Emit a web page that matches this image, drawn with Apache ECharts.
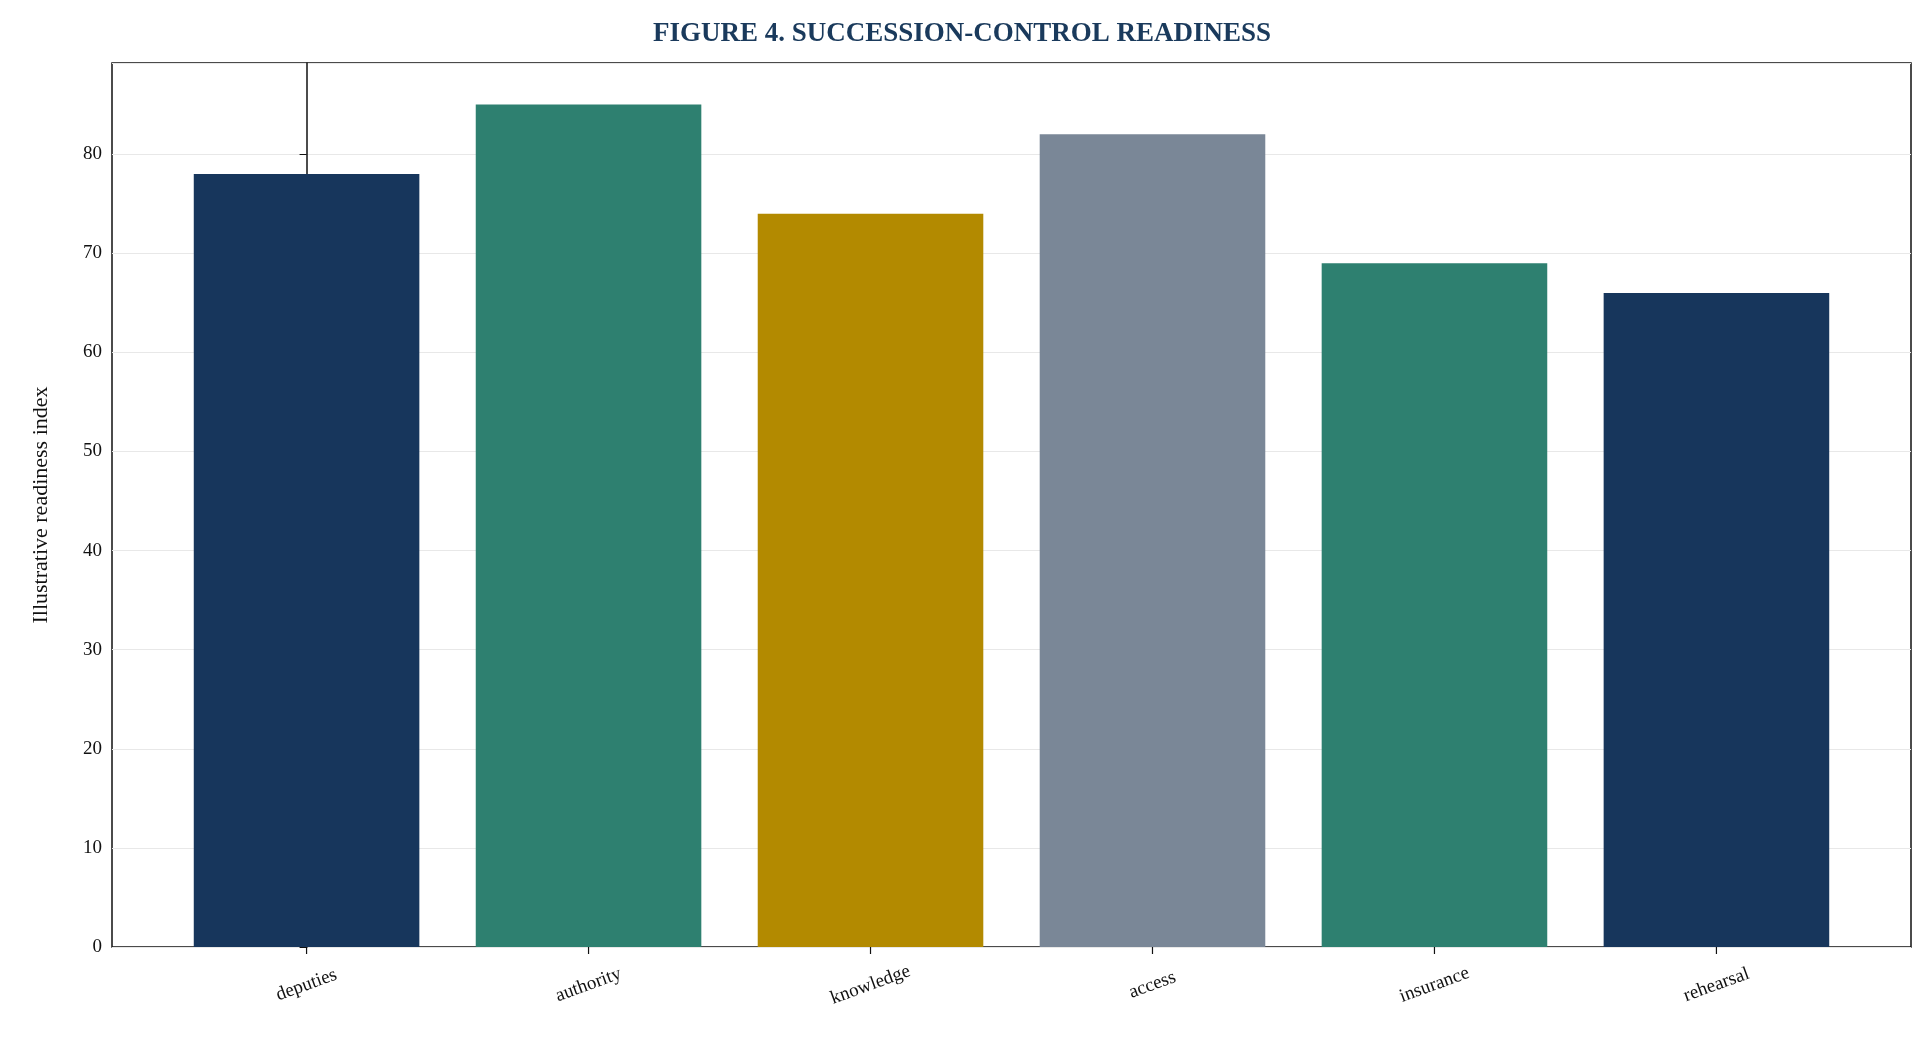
<!DOCTYPE html><html><head><meta charset="utf-8"><script src="https://cdn.jsdelivr.net/npm/echarts@6/dist/echarts.min.js"></script>
<style>html,body{margin:0;padding:0;background:#fff}#c{width:1924px;height:1057px}</style></head><body><div id="c"></div><script>
const categories=['deputies','authority','knowledge','access','insurance','rehearsal'];
const values=[78,85,74,82,69,66];
const colors=['#17365c','#2e8070','#b38a00','#7a8797','#2e8070','#17365c'];
const yTicks=[0,10,20,30,40,50,60,70,80];
const F='"Liberation Serif","DejaVu Serif",serif';
const chart=echarts.init(document.getElementById('c'));
chart.setOption({
 animation:false,
 title:{text:'FIGURE 4. SUCCESSION-CONTROL READINESS',left:'center',top:16,textStyle:{fontFamily:F,fontWeight:'bold',fontSize:27,color:'#1a3a5c'}},
 grid:{left:112,right:13,top:63,bottom:110,show:true,borderColor:'#111',borderWidth:1.5,backgroundColor:'transparent'},
 xAxis:{type:'value',min:-0.69,max:5.69,axisLine:{show:false},axisTick:{show:false},axisLabel:{show:false},splitLine:{show:false}},
 yAxis:{type:'value',min:0,max:89.2,interval:10,name:'Illustrative readiness index',nameLocation:'middle',nameGap:60,
  nameTextStyle:{fontFamily:F,fontSize:22,color:'#111'},
  axisLine:{show:true,lineStyle:{color:'#111',width:1.5}},axisTick:{show:true,length:7,lineStyle:{color:'#111'}},
  axisLabel:{fontFamily:F,fontSize:19,color:'#111',margin:10,showMaxLabel:false},
  splitLine:{show:true,lineStyle:{color:'#e8e8e8',width:1.2}}},
 series:[{type:'custom',clip:false,data:values.map((v,i)=>[i,v]),
  renderItem:function(params,api){
   const i=api.value(0),v=api.value(1);
   const p0=api.coord([i-0.4,v]),p1=api.coord([i+0.4,0]),pc=api.coord([i,0]);
   return {type:'group',children:[
    {type:'rect',shape:{x:p0[0],y:p0[1],width:p1[0]-p0[0],height:p1[1]-p0[1]},style:{fill:colors[i]}},
    {type:'line',shape:{x1:pc[0],y1:pc[1],x2:pc[0],y2:pc[1]+7},style:{stroke:'#111',lineWidth:1.2}},
    {type:'text',x:pc[0],y:pc[1]+38,rotation:20*Math.PI/180,style:{text:categories[i],fontFamily:F,fontSize:19,fill:'#111',align:'center',verticalAlign:'middle'}}
   ]};
  }}]
});
</script></body></html>
